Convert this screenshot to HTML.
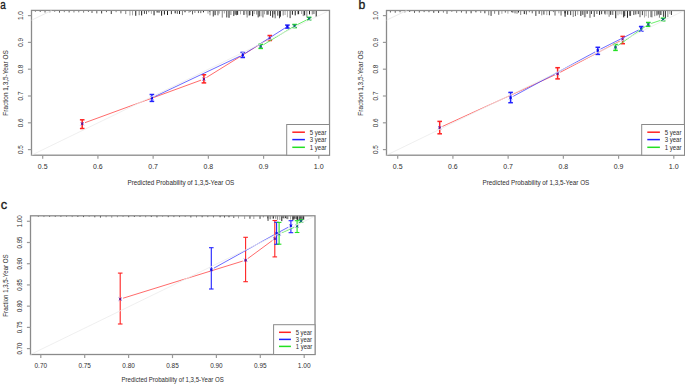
<!DOCTYPE html>
<html><head><meta charset="utf-8"><style>
html,body{margin:0;padding:0;background:#fff;width:685px;height:384px;overflow:hidden}
svg{display:block}
text{font-family:"Liberation Sans", sans-serif}
</style></head><body>
<svg width="685" height="384" viewBox="0 0 685 384">
<rect width="685" height="384" fill="#fff"/>
<line x1="35.40" y1="10.40" x2="35.40" y2="11.85" stroke="#000" stroke-width="0.9" stroke-opacity="0.55" />
<line x1="40.22" y1="10.40" x2="40.22" y2="11.98" stroke="#000" stroke-width="0.9" stroke-opacity="0.7" />
<line x1="45.04" y1="10.40" x2="45.04" y2="12.54" stroke="#000" stroke-width="0.9" stroke-opacity="0.7" />
<line x1="49.86" y1="10.40" x2="49.86" y2="12.42" stroke="#000" stroke-width="0.9" stroke-opacity="0.55" />
<line x1="54.68" y1="10.40" x2="54.68" y2="11.80" stroke="#000" stroke-width="0.9" stroke-opacity="0.55" />
<line x1="59.50" y1="10.40" x2="59.50" y2="12.68" stroke="#000" stroke-width="0.9" stroke-opacity="0.7" />
<line x1="64.32" y1="10.40" x2="64.32" y2="12.18" stroke="#000" stroke-width="0.9" stroke-opacity="0.55" />
<line x1="69.14" y1="10.40" x2="69.14" y2="12.47" stroke="#000" stroke-width="0.9" stroke-opacity="0.7" />
<line x1="73.96" y1="10.40" x2="73.96" y2="12.49" stroke="#000" stroke-width="0.9" stroke-opacity="0.55" />
<line x1="78.78" y1="10.40" x2="78.78" y2="12.35" stroke="#000" stroke-width="0.9" stroke-opacity="0.55" />
<line x1="83.60" y1="10.40" x2="83.60" y2="12.69" stroke="#000" stroke-width="0.9" stroke-opacity="0.55" />
<line x1="88.42" y1="10.40" x2="88.42" y2="11.72" stroke="#000" stroke-width="0.9" stroke-opacity="0.85" />
<line x1="92.00" y1="10.40" x2="92.00" y2="13.01" stroke="#000" stroke-width="0.9" stroke-opacity="0.7" />
<line x1="96.82" y1="10.40" x2="96.82" y2="13.38" stroke="#000" stroke-width="0.9" stroke-opacity="0.7" />
<line x1="101.64" y1="10.40" x2="101.64" y2="13.49" stroke="#000" stroke-width="0.9" stroke-opacity="0.85" />
<line x1="106.46" y1="10.40" x2="106.46" y2="12.18" stroke="#000" stroke-width="0.9" stroke-opacity="0.7" />
<line x1="111.28" y1="10.40" x2="111.28" y2="14.04" stroke="#000" stroke-width="0.9" stroke-opacity="0.85" />
<line x1="116.10" y1="10.40" x2="116.10" y2="12.21" stroke="#000" stroke-width="0.9" stroke-opacity="0.55" />
<line x1="120.92" y1="10.40" x2="120.92" y2="13.36" stroke="#000" stroke-width="0.9" stroke-opacity="0.7" />
<line x1="125.74" y1="10.40" x2="125.74" y2="14.08" stroke="#000" stroke-width="0.9" stroke-opacity="0.55" />
<line x1="129.93" y1="10.40" x2="129.93" y2="15.57" stroke="#000" stroke-width="0.9" stroke-opacity="0.4" />
<line x1="132.49" y1="10.40" x2="132.49" y2="15.34" stroke="#000" stroke-width="0.9" stroke-opacity="0.4" />
<line x1="135.76" y1="10.40" x2="135.76" y2="15.79" stroke="#000" stroke-width="0.9" />
<line x1="139.16" y1="10.40" x2="139.16" y2="15.22" stroke="#000" stroke-width="0.9" stroke-opacity="0.55" />
<line x1="141.65" y1="10.40" x2="141.65" y2="15.43" stroke="#000" stroke-width="0.9" />
<line x1="144.42" y1="10.40" x2="144.42" y2="13.82" stroke="#000" stroke-width="0.9" stroke-opacity="0.85" />
<line x1="146.49" y1="10.40" x2="146.49" y2="14.10" stroke="#000" stroke-width="0.9" stroke-opacity="0.7" />
<line x1="148.75" y1="10.40" x2="148.75" y2="12.33" stroke="#000" stroke-width="0.9" stroke-opacity="0.55" />
<line x1="151.38" y1="10.40" x2="151.38" y2="13.86" stroke="#000" stroke-width="0.9" stroke-opacity="0.4" />
<line x1="154.05" y1="10.40" x2="154.05" y2="15.29" stroke="#000" stroke-width="0.9" />
<line x1="157.12" y1="10.40" x2="157.12" y2="12.58" stroke="#000" stroke-width="0.9" />
<line x1="159.01" y1="10.40" x2="159.01" y2="12.70" stroke="#000" stroke-width="0.9" />
<line x1="161.61" y1="10.40" x2="161.61" y2="15.71" stroke="#000" stroke-width="0.9" />
<line x1="164.40" y1="10.40" x2="164.40" y2="14.54" stroke="#000" stroke-width="0.9" />
<line x1="167.50" y1="10.40" x2="167.50" y2="15.03" stroke="#000" stroke-width="0.9" />
<line x1="171.40" y1="10.40" x2="171.40" y2="14.15" stroke="#000" stroke-width="0.9" stroke-opacity="0.85" />
<line x1="175.18" y1="10.40" x2="175.18" y2="13.36" stroke="#000" stroke-width="0.9" />
<line x1="177.32" y1="10.40" x2="177.32" y2="13.84" stroke="#000" stroke-width="0.9" stroke-opacity="0.7" />
<line x1="179.53" y1="10.40" x2="179.53" y2="14.06" stroke="#000" stroke-width="0.9" />
<line x1="182.43" y1="10.40" x2="182.43" y2="15.12" stroke="#000" stroke-width="0.9" stroke-opacity="0.55" />
<line x1="185.01" y1="10.40" x2="185.01" y2="12.27" stroke="#000" stroke-width="0.9" />
<line x1="188.98" y1="10.40" x2="188.98" y2="12.92" stroke="#000" stroke-width="0.9" stroke-opacity="0.4" />
<line x1="190.21" y1="10.40" x2="190.21" y2="11.96" stroke="#000" stroke-width="0.9" stroke-opacity="0.7" />
<line x1="192.52" y1="10.40" x2="192.52" y2="14.40" stroke="#000" stroke-width="0.9" stroke-opacity="0.7" />
<line x1="194.90" y1="10.40" x2="194.90" y2="12.92" stroke="#000" stroke-width="0.9" stroke-opacity="0.55" />
<line x1="198.43" y1="10.40" x2="198.43" y2="13.08" stroke="#000" stroke-width="0.9" stroke-opacity="0.7" />
<line x1="200.80" y1="10.40" x2="200.80" y2="13.15" stroke="#000" stroke-width="0.9" stroke-opacity="0.7" />
<line x1="203.48" y1="10.40" x2="203.48" y2="12.34" stroke="#000" stroke-width="0.9" />
<line x1="207.97" y1="10.40" x2="207.97" y2="13.63" stroke="#000" stroke-width="0.9" stroke-opacity="0.4" />
<line x1="209.70" y1="10.40" x2="209.70" y2="12.04" stroke="#000" stroke-width="0.9" stroke-opacity="0.55" />
<line x1="210.01" y1="10.40" x2="210.01" y2="15.32" stroke="#000" stroke-width="0.9" stroke-opacity="0.55" />
<line x1="213.28" y1="10.40" x2="213.28" y2="16.53" stroke="#000" stroke-width="0.9" stroke-opacity="0.85" />
<line x1="215.09" y1="10.40" x2="215.09" y2="15.18" stroke="#000" stroke-width="0.9" />
<line x1="217.95" y1="10.40" x2="217.95" y2="15.32" stroke="#000" stroke-width="0.9" stroke-opacity="0.7" />
<line x1="219.21" y1="10.40" x2="219.21" y2="13.61" stroke="#000" stroke-width="0.9" stroke-opacity="0.4" />
<line x1="222.25" y1="10.40" x2="222.25" y2="17.63" stroke="#000" stroke-width="0.9" stroke-opacity="0.55" />
<line x1="224.35" y1="10.40" x2="224.35" y2="13.44" stroke="#000" stroke-width="0.9" stroke-opacity="0.4" />
<line x1="226.78" y1="10.40" x2="226.78" y2="17.45" stroke="#000" stroke-width="0.9" stroke-opacity="0.85" />
<line x1="229.00" y1="10.40" x2="229.00" y2="17.78" stroke="#000" stroke-width="0.9" />
<line x1="230.92" y1="10.40" x2="230.92" y2="14.96" stroke="#000" stroke-width="0.9" stroke-opacity="0.55" />
<line x1="233.77" y1="10.40" x2="233.77" y2="16.06" stroke="#000" stroke-width="0.9" stroke-opacity="0.85" />
<line x1="235.16" y1="10.40" x2="235.16" y2="14.73" stroke="#000" stroke-width="0.9" stroke-opacity="0.85" />
<line x1="236.53" y1="10.40" x2="236.53" y2="15.21" stroke="#000" stroke-width="0.9" stroke-opacity="0.7" />
<line x1="237.61" y1="10.40" x2="237.61" y2="14.87" stroke="#000" stroke-width="0.9" />
<line x1="240.55" y1="10.40" x2="240.55" y2="14.36" stroke="#000" stroke-width="0.9" stroke-opacity="0.4" />
<line x1="243.94" y1="10.40" x2="243.94" y2="14.95" stroke="#000" stroke-width="0.9" />
<line x1="246.26" y1="10.40" x2="246.26" y2="14.46" stroke="#000" stroke-width="0.9" stroke-opacity="0.4" />
<line x1="247.14" y1="10.40" x2="247.14" y2="17.50" stroke="#000" stroke-width="0.9" stroke-opacity="0.55" />
<line x1="249.14" y1="10.40" x2="249.14" y2="15.68" stroke="#000" stroke-width="0.9" stroke-opacity="0.7" />
<line x1="249.87" y1="10.40" x2="249.87" y2="15.21" stroke="#000" stroke-width="0.9" />
<line x1="252.62" y1="10.40" x2="252.62" y2="16.10" stroke="#000" stroke-width="0.9" />
<line x1="254.21" y1="10.40" x2="254.21" y2="14.08" stroke="#000" stroke-width="0.9" stroke-opacity="0.4" />
<line x1="256.73" y1="10.40" x2="256.73" y2="14.56" stroke="#000" stroke-width="0.9" stroke-opacity="0.55" />
<line x1="258.18" y1="10.40" x2="258.18" y2="17.42" stroke="#000" stroke-width="0.9" stroke-opacity="0.85" />
<line x1="259.45" y1="10.40" x2="259.45" y2="16.45" stroke="#000" stroke-width="0.9" stroke-opacity="0.7" />
<line x1="261.03" y1="10.40" x2="261.03" y2="16.30" stroke="#000" stroke-width="0.9" stroke-opacity="0.4" />
<line x1="262.94" y1="10.40" x2="262.94" y2="17.44" stroke="#000" stroke-width="0.9" stroke-opacity="0.7" />
<line x1="264.48" y1="10.40" x2="264.48" y2="14.31" stroke="#000" stroke-width="0.9" stroke-opacity="0.4" />
<line x1="267.10" y1="10.40" x2="267.10" y2="14.75" stroke="#000" stroke-width="0.9" />
<line x1="268.43" y1="10.40" x2="268.43" y2="14.65" stroke="#000" stroke-width="0.9" stroke-opacity="0.55" />
<line x1="270.47" y1="10.40" x2="270.47" y2="15.86" stroke="#000" stroke-width="0.9" stroke-opacity="0.85" />
<line x1="272.72" y1="10.40" x2="272.72" y2="17.58" stroke="#000" stroke-width="0.9" />
<line x1="274.27" y1="10.40" x2="274.27" y2="14.35" stroke="#000" stroke-width="0.9" stroke-opacity="0.7" />
<line x1="275.16" y1="10.40" x2="275.16" y2="18.32" stroke="#000" stroke-width="0.9" stroke-opacity="0.7" />
<line x1="277.77" y1="10.40" x2="277.77" y2="15.66" stroke="#000" stroke-width="0.9" stroke-opacity="0.85" />
<line x1="279.54" y1="10.40" x2="279.54" y2="18.26" stroke="#000" stroke-width="0.9" stroke-opacity="0.85" />
<line x1="280.36" y1="10.40" x2="280.36" y2="16.68" stroke="#000" stroke-width="0.9" />
<line x1="283.16" y1="10.40" x2="283.16" y2="15.50" stroke="#000" stroke-width="0.9" stroke-opacity="0.55" />
<line x1="285.09" y1="10.40" x2="285.09" y2="15.01" stroke="#000" stroke-width="0.9" stroke-opacity="0.4" />
<line x1="287.43" y1="10.40" x2="287.43" y2="17.29" stroke="#000" stroke-width="0.9" stroke-opacity="0.4" />
<line x1="290.12" y1="10.40" x2="290.12" y2="18.13" stroke="#000" stroke-width="0.9" stroke-opacity="0.85" />
<line x1="292.38" y1="10.40" x2="292.38" y2="14.74" stroke="#000" stroke-width="0.9" />
<line x1="295.22" y1="10.40" x2="295.22" y2="15.40" stroke="#000" stroke-width="0.9" />
<line x1="297.80" y1="10.40" x2="297.80" y2="14.31" stroke="#000" stroke-width="0.9" stroke-opacity="0.55" />
<line x1="298.58" y1="10.40" x2="298.58" y2="14.23" stroke="#000" stroke-width="0.9" />
<line x1="301.56" y1="10.40" x2="301.56" y2="14.00" stroke="#000" stroke-width="0.9" stroke-opacity="0.4" />
<line x1="303.28" y1="10.40" x2="303.28" y2="16.12" stroke="#000" stroke-width="0.9" stroke-opacity="0.55" />
<line x1="304.63" y1="10.40" x2="304.63" y2="15.38" stroke="#000" stroke-width="0.9" />
<line x1="306.86" y1="10.40" x2="306.86" y2="17.39" stroke="#000" stroke-width="0.9" stroke-opacity="0.55" />
<line x1="309.49" y1="10.40" x2="309.49" y2="14.38" stroke="#000" stroke-width="0.9" />
<line x1="312.25" y1="10.40" x2="312.25" y2="14.47" stroke="#000" stroke-width="0.9" stroke-opacity="0.55" />
<line x1="313.93" y1="10.40" x2="313.93" y2="14.04" stroke="#000" stroke-width="0.9" stroke-opacity="0.7" />
<line x1="316.21" y1="10.40" x2="316.21" y2="16.92" stroke="#000" stroke-width="0.9" />
<rect x="31.5" y="10.4" width="298.00" height="144.80" fill="none" stroke="#8a8a8a" stroke-width="1.3"/>
<line x1="42.70" y1="155.20" x2="42.70" y2="158.80" stroke="#9a9a9a" stroke-width="1.2" />
<text x="42.70" y="168.60" font-size="6.85" text-anchor="middle" font-weight="normal" fill="#2e2e2e" textLength="9.66" lengthAdjust="spacingAndGlyphs">0.5</text>
<line x1="97.92" y1="155.20" x2="97.92" y2="158.80" stroke="#9a9a9a" stroke-width="1.2" />
<text x="97.92" y="168.60" font-size="6.85" text-anchor="middle" font-weight="normal" fill="#2e2e2e" textLength="9.66" lengthAdjust="spacingAndGlyphs">0.6</text>
<line x1="153.14" y1="155.20" x2="153.14" y2="158.80" stroke="#9a9a9a" stroke-width="1.2" />
<text x="153.14" y="168.60" font-size="6.85" text-anchor="middle" font-weight="normal" fill="#2e2e2e" textLength="9.73" lengthAdjust="spacingAndGlyphs">0.7</text>
<line x1="208.36" y1="155.20" x2="208.36" y2="158.80" stroke="#9a9a9a" stroke-width="1.2" />
<text x="208.36" y="168.60" font-size="6.85" text-anchor="middle" font-weight="normal" fill="#2e2e2e" textLength="9.66" lengthAdjust="spacingAndGlyphs">0.8</text>
<line x1="263.58" y1="155.20" x2="263.58" y2="158.80" stroke="#9a9a9a" stroke-width="1.2" />
<text x="263.58" y="168.60" font-size="6.85" text-anchor="middle" font-weight="normal" fill="#2e2e2e" textLength="9.69" lengthAdjust="spacingAndGlyphs">0.9</text>
<line x1="318.80" y1="155.20" x2="318.80" y2="158.80" stroke="#9a9a9a" stroke-width="1.2" />
<text x="318.80" y="168.60" font-size="6.85" text-anchor="middle" font-weight="normal" fill="#2e2e2e" textLength="9.88" lengthAdjust="spacingAndGlyphs">1.0</text>
<line x1="27.90" y1="149.60" x2="31.50" y2="149.60" stroke="#9a9a9a" stroke-width="1.2" />
<text x="22.80" y="149.60" font-size="6.9" text-anchor="middle" font-weight="normal" fill="#2e2e2e" transform="rotate(-90 22.80 149.60)" textLength="8.81" lengthAdjust="spacingAndGlyphs">0.5</text>
<line x1="27.90" y1="122.80" x2="31.50" y2="122.80" stroke="#9a9a9a" stroke-width="1.2" />
<text x="22.80" y="122.80" font-size="6.9" text-anchor="middle" font-weight="normal" fill="#2e2e2e" transform="rotate(-90 22.80 122.80)" textLength="8.81" lengthAdjust="spacingAndGlyphs">0.6</text>
<line x1="27.90" y1="96.00" x2="31.50" y2="96.00" stroke="#9a9a9a" stroke-width="1.2" />
<text x="22.80" y="96.00" font-size="6.9" text-anchor="middle" font-weight="normal" fill="#2e2e2e" transform="rotate(-90 22.80 96.00)" textLength="8.88" lengthAdjust="spacingAndGlyphs">0.7</text>
<line x1="27.90" y1="69.20" x2="31.50" y2="69.20" stroke="#9a9a9a" stroke-width="1.2" />
<text x="22.80" y="69.20" font-size="6.9" text-anchor="middle" font-weight="normal" fill="#2e2e2e" transform="rotate(-90 22.80 69.20)" textLength="8.81" lengthAdjust="spacingAndGlyphs">0.8</text>
<line x1="27.90" y1="42.40" x2="31.50" y2="42.40" stroke="#9a9a9a" stroke-width="1.2" />
<text x="22.80" y="42.40" font-size="6.9" text-anchor="middle" font-weight="normal" fill="#2e2e2e" transform="rotate(-90 22.80 42.40)" textLength="8.84" lengthAdjust="spacingAndGlyphs">0.9</text>
<line x1="27.90" y1="15.60" x2="31.50" y2="15.60" stroke="#9a9a9a" stroke-width="1.2" />
<text x="22.80" y="15.60" font-size="6.9" text-anchor="middle" font-weight="normal" fill="#2e2e2e" transform="rotate(-90 22.80 15.60)" textLength="9.01" lengthAdjust="spacingAndGlyphs">1.0</text>
<text x="180.90" y="184.55" font-size="7.3" text-anchor="middle" font-weight="normal" fill="#2e2e2e" textLength="106.80" lengthAdjust="spacingAndGlyphs">Predicted Probability of 1,3,5-Year OS</text>
<text x="7.80" y="83.00" font-size="7.4" text-anchor="middle" font-weight="normal" fill="#2e2e2e" transform="rotate(-90 7.80 83.00)" textLength="65.31" lengthAdjust="spacingAndGlyphs">Fraction 1,3,5-Year OS</text>
<rect x="286.7" y="124.5" width="42.80" height="30.70" fill="#fff" stroke="#8a8a8a" stroke-width="1"/>
<line x1="292.30" y1="132.20" x2="304.90" y2="132.20" stroke="#ff2222" stroke-width="1.5" />
<text x="309.65" y="134.80" font-size="6.3" text-anchor="start" font-weight="normal" fill="#2e2e2e" textLength="16.76" lengthAdjust="spacingAndGlyphs">5 year</text>
<line x1="292.30" y1="139.60" x2="304.90" y2="139.60" stroke="#2222ff" stroke-width="1.5" />
<text x="309.65" y="142.20" font-size="6.3" text-anchor="start" font-weight="normal" fill="#2e2e2e" textLength="16.76" lengthAdjust="spacingAndGlyphs">3 year</text>
<line x1="292.30" y1="147.30" x2="304.90" y2="147.30" stroke="#22e022" stroke-width="1.5" />
<text x="309.65" y="150.00" font-size="6.3" text-anchor="start" font-weight="normal" fill="#2e2e2e" textLength="16.98" lengthAdjust="spacingAndGlyphs">1 year</text>
<line x1="82.20" y1="119.80" x2="82.20" y2="128.50" stroke="#ff2222" stroke-width="1.5" />
<line x1="79.90" y1="119.80" x2="84.50" y2="119.80" stroke="#ff2222" stroke-width="1.5" />
<line x1="79.90" y1="128.50" x2="84.50" y2="128.50" stroke="#ff2222" stroke-width="1.5" />
<line x1="203.90" y1="74.75" x2="203.90" y2="82.90" stroke="#ff2222" stroke-width="1.5" />
<line x1="201.60" y1="74.75" x2="206.20" y2="74.75" stroke="#ff2222" stroke-width="1.5" />
<line x1="201.60" y1="82.90" x2="206.20" y2="82.90" stroke="#ff2222" stroke-width="1.5" />
<line x1="269.80" y1="35.50" x2="269.80" y2="40.50" stroke="#ff2222" stroke-width="1.5" />
<line x1="267.50" y1="35.50" x2="272.10" y2="35.50" stroke="#ff2222" stroke-width="1.5" />
<line x1="267.50" y1="40.50" x2="272.10" y2="40.50" stroke="#ff2222" stroke-width="1.5" />
<line x1="85.02" y1="122.67" x2="201.08" y2="80.13" stroke="#ff5050" stroke-width="0.85" />
<line x1="206.45" y1="77.52" x2="267.25" y2="39.78" stroke="#ff5050" stroke-width="0.85" />
<path d="M80.60 122.10L83.80 125.30M80.60 125.30L83.80 122.10" stroke="#3030e0" stroke-width="0.9" stroke-opacity="0.65"/>
<circle cx="82.20" cy="123.70" r="1.2" fill="#700a80" fill-opacity="0.85"/>
<path d="M202.30 77.50L205.50 80.70M202.30 80.70L205.50 77.50" stroke="#3030e0" stroke-width="0.9" stroke-opacity="0.65"/>
<circle cx="203.90" cy="79.10" r="1.2" fill="#700a80" fill-opacity="0.85"/>
<path d="M268.20 36.60L271.40 39.80M268.20 39.80L271.40 36.60" stroke="#3030e0" stroke-width="0.9" stroke-opacity="0.65"/>
<circle cx="269.80" cy="38.20" r="1.2" fill="#700a80" fill-opacity="0.85"/>
<line x1="151.90" y1="94.50" x2="151.90" y2="101.40" stroke="#2222ff" stroke-width="1.5" />
<line x1="149.60" y1="94.50" x2="154.20" y2="94.50" stroke="#2222ff" stroke-width="1.5" />
<line x1="149.60" y1="101.40" x2="154.20" y2="101.40" stroke="#2222ff" stroke-width="1.5" />
<line x1="242.75" y1="52.40" x2="242.75" y2="57.50" stroke="#2222ff" stroke-width="1.5" />
<line x1="240.45" y1="52.40" x2="245.05" y2="52.40" stroke="#2222ff" stroke-width="1.5" />
<line x1="240.45" y1="57.50" x2="245.05" y2="57.50" stroke="#2222ff" stroke-width="1.5" />
<line x1="287.40" y1="25.10" x2="287.40" y2="28.10" stroke="#2222ff" stroke-width="1.5" />
<line x1="285.10" y1="25.10" x2="289.70" y2="25.10" stroke="#2222ff" stroke-width="1.5" />
<line x1="285.10" y1="28.10" x2="289.70" y2="28.10" stroke="#2222ff" stroke-width="1.5" />
<line x1="154.61" y1="96.62" x2="240.04" y2="56.18" stroke="#5050ff" stroke-width="0.85" />
<line x1="245.28" y1="53.29" x2="284.87" y2="28.11" stroke="#5050ff" stroke-width="0.85" />
<path d="M150.30 96.30L153.50 99.50M150.30 99.50L153.50 96.30" stroke="#3030e0" stroke-width="0.9" stroke-opacity="0.65"/>
<circle cx="151.90" cy="97.90" r="1.2" fill="#0000e8" fill-opacity="0.85"/>
<path d="M241.15 53.30L244.35 56.50M241.15 56.50L244.35 53.30" stroke="#3030e0" stroke-width="0.9" stroke-opacity="0.65"/>
<circle cx="242.75" cy="54.90" r="1.2" fill="#0000e8" fill-opacity="0.85"/>
<path d="M285.80 24.90L289.00 28.10M285.80 28.10L289.00 24.90" stroke="#3030e0" stroke-width="0.9" stroke-opacity="0.65"/>
<circle cx="287.40" cy="26.50" r="1.2" fill="#0000e8" fill-opacity="0.85"/>
<line x1="260.70" y1="44.30" x2="260.70" y2="48.40" stroke="#22e022" stroke-width="1.5" />
<line x1="258.40" y1="44.30" x2="263.00" y2="44.30" stroke="#22e022" stroke-width="1.5" />
<line x1="258.40" y1="48.40" x2="263.00" y2="48.40" stroke="#22e022" stroke-width="1.5" />
<line x1="294.60" y1="24.50" x2="294.60" y2="27.60" stroke="#22e022" stroke-width="1.5" />
<line x1="292.30" y1="24.50" x2="296.90" y2="24.50" stroke="#22e022" stroke-width="1.5" />
<line x1="292.30" y1="27.60" x2="296.90" y2="27.60" stroke="#22e022" stroke-width="1.5" />
<line x1="309.20" y1="17.40" x2="309.20" y2="19.80" stroke="#22e022" stroke-width="1.5" />
<line x1="306.90" y1="17.40" x2="311.50" y2="17.40" stroke="#22e022" stroke-width="1.5" />
<line x1="306.90" y1="19.80" x2="311.50" y2="19.80" stroke="#22e022" stroke-width="1.5" />
<line x1="263.27" y1="44.85" x2="292.03" y2="27.55" stroke="#50e850" stroke-width="0.85" />
<line x1="297.28" y1="24.64" x2="306.52" y2="19.96" stroke="#50e850" stroke-width="0.85" />
<path d="M259.10 44.80L262.30 48.00M259.10 48.00L262.30 44.80" stroke="#3030e0" stroke-width="0.9" stroke-opacity="0.65"/>
<circle cx="260.70" cy="46.40" r="1.2" fill="#106a70" fill-opacity="0.85"/>
<path d="M293.00 24.40L296.20 27.60M293.00 27.60L296.20 24.40" stroke="#3030e0" stroke-width="0.9" stroke-opacity="0.65"/>
<circle cx="294.60" cy="26.00" r="1.2" fill="#106a70" fill-opacity="0.85"/>
<path d="M307.60 17.00L310.80 20.20M307.60 20.20L310.80 17.00" stroke="#3030e0" stroke-width="0.9" stroke-opacity="0.65"/>
<circle cx="309.20" cy="18.60" r="1.2" fill="#106a70" fill-opacity="0.85"/>
<line x1="31.50" y1="155.20" x2="327.50" y2="11.40" stroke="#ebebeb" stroke-width="0.8" />
<line x1="31.50" y1="20.20" x2="51.50" y2="10.60" stroke="#e4e4e4" stroke-width="0.8" />
<text x="0.35" y="8.75" font-size="12.0" text-anchor="start" font-weight="normal" fill="#1a1a1a" textLength="5.51" lengthAdjust="spacingAndGlyphs" stroke="#1a1a1a" stroke-width="0.35">a</text>
<line x1="390.40" y1="10.50" x2="390.40" y2="12.51" stroke="#000" stroke-width="0.9" stroke-opacity="0.7" />
<line x1="395.22" y1="10.50" x2="395.22" y2="12.75" stroke="#000" stroke-width="0.9" stroke-opacity="0.7" />
<line x1="400.04" y1="10.50" x2="400.04" y2="12.28" stroke="#000" stroke-width="0.9" stroke-opacity="0.7" />
<line x1="404.86" y1="10.50" x2="404.86" y2="12.38" stroke="#000" stroke-width="0.9" stroke-opacity="0.7" />
<line x1="409.68" y1="10.50" x2="409.68" y2="12.01" stroke="#000" stroke-width="0.9" stroke-opacity="0.7" />
<line x1="414.50" y1="10.50" x2="414.50" y2="12.86" stroke="#000" stroke-width="0.9" stroke-opacity="0.7" />
<line x1="419.32" y1="10.50" x2="419.32" y2="12.55" stroke="#000" stroke-width="0.9" stroke-opacity="0.7" />
<line x1="424.14" y1="10.50" x2="424.14" y2="12.14" stroke="#000" stroke-width="0.9" stroke-opacity="0.7" />
<line x1="428.96" y1="10.50" x2="428.96" y2="12.24" stroke="#000" stroke-width="0.9" stroke-opacity="0.7" />
<line x1="433.78" y1="10.50" x2="433.78" y2="12.80" stroke="#000" stroke-width="0.9" stroke-opacity="0.85" />
<line x1="438.60" y1="10.50" x2="438.60" y2="12.90" stroke="#000" stroke-width="0.9" stroke-opacity="0.85" />
<line x1="443.42" y1="10.50" x2="443.42" y2="12.65" stroke="#000" stroke-width="0.9" stroke-opacity="0.55" />
<line x1="447.00" y1="10.50" x2="447.00" y2="13.84" stroke="#000" stroke-width="0.9" stroke-opacity="0.7" />
<line x1="451.82" y1="10.50" x2="451.82" y2="11.89" stroke="#000" stroke-width="0.9" stroke-opacity="0.55" />
<line x1="456.64" y1="10.50" x2="456.64" y2="12.91" stroke="#000" stroke-width="0.9" stroke-opacity="0.55" />
<line x1="461.46" y1="10.50" x2="461.46" y2="12.56" stroke="#000" stroke-width="0.9" stroke-opacity="0.7" />
<line x1="466.28" y1="10.50" x2="466.28" y2="13.51" stroke="#000" stroke-width="0.9" stroke-opacity="0.7" />
<line x1="471.10" y1="10.50" x2="471.10" y2="13.29" stroke="#000" stroke-width="0.9" stroke-opacity="0.85" />
<line x1="475.92" y1="10.50" x2="475.92" y2="12.33" stroke="#000" stroke-width="0.9" stroke-opacity="0.85" />
<line x1="480.74" y1="10.50" x2="480.74" y2="12.99" stroke="#000" stroke-width="0.9" stroke-opacity="0.55" />
<line x1="484.86" y1="10.50" x2="484.86" y2="13.29" stroke="#000" stroke-width="0.9" stroke-opacity="0.85" />
<line x1="488.73" y1="10.50" x2="488.73" y2="15.28" stroke="#000" stroke-width="0.9" stroke-opacity="0.55" />
<line x1="491.07" y1="10.50" x2="491.07" y2="15.92" stroke="#000" stroke-width="0.9" stroke-opacity="0.85" />
<line x1="494.62" y1="10.50" x2="494.62" y2="13.74" stroke="#000" stroke-width="0.9" stroke-opacity="0.55" />
<line x1="498.75" y1="10.50" x2="498.75" y2="14.81" stroke="#000" stroke-width="0.9" stroke-opacity="0.7" />
<line x1="501.90" y1="10.50" x2="501.90" y2="13.79" stroke="#000" stroke-width="0.9" stroke-opacity="0.4" />
<line x1="505.30" y1="10.50" x2="505.30" y2="12.60" stroke="#000" stroke-width="0.9" stroke-opacity="0.7" />
<line x1="507.91" y1="10.50" x2="507.91" y2="13.66" stroke="#000" stroke-width="0.9" stroke-opacity="0.4" />
<line x1="511.52" y1="10.50" x2="511.52" y2="12.20" stroke="#000" stroke-width="0.9" stroke-opacity="0.7" />
<line x1="512.84" y1="10.50" x2="512.84" y2="12.59" stroke="#000" stroke-width="0.9" stroke-opacity="0.85" />
<line x1="515.03" y1="10.50" x2="515.03" y2="13.37" stroke="#000" stroke-width="0.9" stroke-opacity="0.7" />
<line x1="517.02" y1="10.50" x2="517.02" y2="13.82" stroke="#000" stroke-width="0.9" stroke-opacity="0.55" />
<line x1="518.51" y1="10.50" x2="518.51" y2="12.52" stroke="#000" stroke-width="0.9" />
<line x1="520.69" y1="10.50" x2="520.69" y2="14.96" stroke="#000" stroke-width="0.9" stroke-opacity="0.55" />
<line x1="524.31" y1="10.50" x2="524.31" y2="14.09" stroke="#000" stroke-width="0.9" />
<line x1="526.40" y1="10.50" x2="526.40" y2="14.50" stroke="#000" stroke-width="0.9" stroke-opacity="0.7" />
<line x1="529.34" y1="10.50" x2="529.34" y2="12.31" stroke="#000" stroke-width="0.9" stroke-opacity="0.55" />
<line x1="532.24" y1="10.50" x2="532.24" y2="13.32" stroke="#000" stroke-width="0.9" stroke-opacity="0.7" />
<line x1="535.87" y1="10.50" x2="535.87" y2="15.92" stroke="#000" stroke-width="0.9" stroke-opacity="0.85" />
<line x1="539.17" y1="10.50" x2="539.17" y2="13.86" stroke="#000" stroke-width="0.9" stroke-opacity="0.85" />
<line x1="541.75" y1="10.50" x2="541.75" y2="15.34" stroke="#000" stroke-width="0.9" stroke-opacity="0.55" />
<line x1="543.90" y1="10.50" x2="543.90" y2="14.61" stroke="#000" stroke-width="0.9" stroke-opacity="0.85" />
<line x1="546.79" y1="10.50" x2="546.79" y2="15.10" stroke="#000" stroke-width="0.9" stroke-opacity="0.4" />
<line x1="549.43" y1="10.50" x2="549.43" y2="15.26" stroke="#000" stroke-width="0.9" stroke-opacity="0.85" />
<line x1="553.43" y1="10.50" x2="553.43" y2="12.09" stroke="#000" stroke-width="0.9" stroke-opacity="0.55" />
<line x1="555.02" y1="10.50" x2="555.02" y2="15.57" stroke="#000" stroke-width="0.9" stroke-opacity="0.7" />
<line x1="558.83" y1="10.50" x2="558.83" y2="13.34" stroke="#000" stroke-width="0.9" stroke-opacity="0.4" />
<line x1="561.05" y1="10.50" x2="561.05" y2="15.54" stroke="#000" stroke-width="0.9" stroke-opacity="0.7" />
<line x1="565.06" y1="10.50" x2="565.06" y2="13.37" stroke="#000" stroke-width="0.9" />
<line x1="565.08" y1="10.50" x2="565.08" y2="16.71" stroke="#000" stroke-width="0.9" />
<line x1="567.70" y1="10.50" x2="567.70" y2="14.78" stroke="#000" stroke-width="0.9" />
<line x1="570.67" y1="10.50" x2="570.67" y2="15.11" stroke="#000" stroke-width="0.9" stroke-opacity="0.85" />
<line x1="573.23" y1="10.50" x2="573.23" y2="17.00" stroke="#000" stroke-width="0.9" stroke-opacity="0.55" />
<line x1="575.43" y1="10.50" x2="575.43" y2="16.11" stroke="#000" stroke-width="0.9" stroke-opacity="0.7" />
<line x1="577.73" y1="10.50" x2="577.73" y2="14.83" stroke="#000" stroke-width="0.9" stroke-opacity="0.4" />
<line x1="580.85" y1="10.50" x2="580.85" y2="15.92" stroke="#000" stroke-width="0.9" />
<line x1="582.82" y1="10.50" x2="582.82" y2="14.84" stroke="#000" stroke-width="0.9" stroke-opacity="0.85" />
<line x1="584.40" y1="10.50" x2="584.40" y2="17.31" stroke="#000" stroke-width="0.9" stroke-opacity="0.55" />
<line x1="585.57" y1="10.50" x2="585.57" y2="17.20" stroke="#000" stroke-width="0.9" stroke-opacity="0.4" />
<line x1="587.15" y1="10.50" x2="587.15" y2="13.82" stroke="#000" stroke-width="0.9" />
<line x1="589.98" y1="10.50" x2="589.98" y2="17.84" stroke="#000" stroke-width="0.9" stroke-opacity="0.7" />
<line x1="591.47" y1="10.50" x2="591.47" y2="13.97" stroke="#000" stroke-width="0.9" stroke-opacity="0.85" />
<line x1="594.23" y1="10.50" x2="594.23" y2="16.88" stroke="#000" stroke-width="0.9" stroke-opacity="0.85" />
<line x1="596.90" y1="10.50" x2="596.90" y2="14.01" stroke="#000" stroke-width="0.9" stroke-opacity="0.7" />
<line x1="599.55" y1="10.50" x2="599.55" y2="14.87" stroke="#000" stroke-width="0.9" />
<line x1="601.63" y1="10.50" x2="601.63" y2="14.23" stroke="#000" stroke-width="0.9" stroke-opacity="0.85" />
<line x1="604.85" y1="10.50" x2="604.85" y2="13.73" stroke="#000" stroke-width="0.9" stroke-opacity="0.85" />
<line x1="605.13" y1="10.50" x2="605.13" y2="14.96" stroke="#000" stroke-width="0.9" stroke-opacity="0.4" />
<line x1="607.13" y1="10.50" x2="607.13" y2="14.47" stroke="#000" stroke-width="0.9" stroke-opacity="0.4" />
<line x1="609.12" y1="10.50" x2="609.12" y2="16.77" stroke="#000" stroke-width="0.9" stroke-opacity="0.55" />
<line x1="610.71" y1="10.50" x2="610.71" y2="14.85" stroke="#000" stroke-width="0.9" />
<line x1="612.77" y1="10.50" x2="612.77" y2="14.92" stroke="#000" stroke-width="0.9" stroke-opacity="0.7" />
<line x1="615.74" y1="10.50" x2="615.74" y2="18.25" stroke="#000" stroke-width="0.9" />
<line x1="617.98" y1="10.50" x2="617.98" y2="15.29" stroke="#000" stroke-width="0.9" stroke-opacity="0.4" />
<line x1="619.89" y1="10.50" x2="619.89" y2="14.25" stroke="#000" stroke-width="0.9" stroke-opacity="0.4" />
<line x1="621.79" y1="10.50" x2="621.79" y2="14.55" stroke="#000" stroke-width="0.9" stroke-opacity="0.4" />
<line x1="623.73" y1="10.50" x2="623.73" y2="17.37" stroke="#000" stroke-width="0.9" />
<line x1="624.73" y1="10.50" x2="624.73" y2="16.06" stroke="#000" stroke-width="0.9" stroke-opacity="0.85" />
<line x1="627.48" y1="10.50" x2="627.48" y2="17.76" stroke="#000" stroke-width="0.9" />
<line x1="629.80" y1="10.50" x2="629.80" y2="15.79" stroke="#000" stroke-width="0.9" stroke-opacity="0.85" />
<line x1="630.59" y1="10.50" x2="630.59" y2="15.91" stroke="#000" stroke-width="0.9" stroke-opacity="0.7" />
<line x1="633.83" y1="10.50" x2="633.83" y2="15.04" stroke="#000" stroke-width="0.9" stroke-opacity="0.85" />
<line x1="635.83" y1="10.50" x2="635.83" y2="14.48" stroke="#000" stroke-width="0.9" stroke-opacity="0.85" />
<line x1="638.26" y1="10.50" x2="638.26" y2="14.09" stroke="#000" stroke-width="0.9" stroke-opacity="0.85" />
<line x1="640.01" y1="10.50" x2="640.01" y2="17.20" stroke="#000" stroke-width="0.9" stroke-opacity="0.7" />
<line x1="642.37" y1="10.50" x2="642.37" y2="15.15" stroke="#000" stroke-width="0.9" stroke-opacity="0.85" />
<line x1="644.44" y1="10.50" x2="644.44" y2="17.51" stroke="#000" stroke-width="0.9" stroke-opacity="0.4" />
<line x1="646.10" y1="10.50" x2="646.10" y2="16.23" stroke="#000" stroke-width="0.9" stroke-opacity="0.4" />
<line x1="648.44" y1="10.50" x2="648.44" y2="17.83" stroke="#000" stroke-width="0.9" stroke-opacity="0.4" />
<line x1="650.97" y1="10.50" x2="650.97" y2="17.17" stroke="#000" stroke-width="0.9" stroke-opacity="0.7" />
<line x1="652.00" y1="10.50" x2="652.00" y2="17.39" stroke="#000" stroke-width="0.9" stroke-opacity="0.55" />
<line x1="654.74" y1="10.50" x2="654.74" y2="16.21" stroke="#000" stroke-width="0.9" stroke-opacity="0.55" />
<line x1="656.93" y1="10.50" x2="656.93" y2="15.51" stroke="#000" stroke-width="0.9" stroke-opacity="0.85" />
<line x1="658.26" y1="10.50" x2="658.26" y2="14.55" stroke="#000" stroke-width="0.9" stroke-opacity="0.85" />
<line x1="659.41" y1="10.50" x2="659.41" y2="17.72" stroke="#000" stroke-width="0.9" stroke-opacity="0.55" />
<line x1="660.89" y1="10.50" x2="660.89" y2="15.03" stroke="#000" stroke-width="0.9" />
<line x1="663.41" y1="10.50" x2="663.41" y2="16.85" stroke="#000" stroke-width="0.9" stroke-opacity="0.85" />
<line x1="665.32" y1="10.50" x2="665.32" y2="18.14" stroke="#000" stroke-width="0.9" />
<line x1="667.84" y1="10.50" x2="667.84" y2="17.10" stroke="#000" stroke-width="0.9" stroke-opacity="0.55" />
<line x1="669.85" y1="10.50" x2="669.85" y2="14.17" stroke="#000" stroke-width="0.9" stroke-opacity="0.4" />
<line x1="671.41" y1="10.50" x2="671.41" y2="15.01" stroke="#000" stroke-width="0.9" stroke-opacity="0.85" />
<rect x="386.5" y="10.5" width="298.00" height="144.70" fill="none" stroke="#8a8a8a" stroke-width="1.3"/>
<line x1="397.70" y1="155.20" x2="397.70" y2="158.80" stroke="#9a9a9a" stroke-width="1.2" />
<text x="397.70" y="168.60" font-size="6.85" text-anchor="middle" font-weight="normal" fill="#2e2e2e" textLength="9.66" lengthAdjust="spacingAndGlyphs">0.5</text>
<line x1="452.92" y1="155.20" x2="452.92" y2="158.80" stroke="#9a9a9a" stroke-width="1.2" />
<text x="452.92" y="168.60" font-size="6.85" text-anchor="middle" font-weight="normal" fill="#2e2e2e" textLength="9.66" lengthAdjust="spacingAndGlyphs">0.6</text>
<line x1="508.14" y1="155.20" x2="508.14" y2="158.80" stroke="#9a9a9a" stroke-width="1.2" />
<text x="508.14" y="168.60" font-size="6.85" text-anchor="middle" font-weight="normal" fill="#2e2e2e" textLength="9.73" lengthAdjust="spacingAndGlyphs">0.7</text>
<line x1="563.36" y1="155.20" x2="563.36" y2="158.80" stroke="#9a9a9a" stroke-width="1.2" />
<text x="563.36" y="168.60" font-size="6.85" text-anchor="middle" font-weight="normal" fill="#2e2e2e" textLength="9.66" lengthAdjust="spacingAndGlyphs">0.8</text>
<line x1="618.58" y1="155.20" x2="618.58" y2="158.80" stroke="#9a9a9a" stroke-width="1.2" />
<text x="618.58" y="168.60" font-size="6.85" text-anchor="middle" font-weight="normal" fill="#2e2e2e" textLength="9.69" lengthAdjust="spacingAndGlyphs">0.9</text>
<line x1="673.80" y1="155.20" x2="673.80" y2="158.80" stroke="#9a9a9a" stroke-width="1.2" />
<text x="673.80" y="168.60" font-size="6.85" text-anchor="middle" font-weight="normal" fill="#2e2e2e" textLength="9.88" lengthAdjust="spacingAndGlyphs">1.0</text>
<line x1="382.90" y1="149.60" x2="386.50" y2="149.60" stroke="#9a9a9a" stroke-width="1.2" />
<text x="377.80" y="149.60" font-size="6.9" text-anchor="middle" font-weight="normal" fill="#2e2e2e" transform="rotate(-90 377.80 149.60)" textLength="8.81" lengthAdjust="spacingAndGlyphs">0.5</text>
<line x1="382.90" y1="122.80" x2="386.50" y2="122.80" stroke="#9a9a9a" stroke-width="1.2" />
<text x="377.80" y="122.80" font-size="6.9" text-anchor="middle" font-weight="normal" fill="#2e2e2e" transform="rotate(-90 377.80 122.80)" textLength="8.81" lengthAdjust="spacingAndGlyphs">0.6</text>
<line x1="382.90" y1="96.00" x2="386.50" y2="96.00" stroke="#9a9a9a" stroke-width="1.2" />
<text x="377.80" y="96.00" font-size="6.9" text-anchor="middle" font-weight="normal" fill="#2e2e2e" transform="rotate(-90 377.80 96.00)" textLength="8.88" lengthAdjust="spacingAndGlyphs">0.7</text>
<line x1="382.90" y1="69.20" x2="386.50" y2="69.20" stroke="#9a9a9a" stroke-width="1.2" />
<text x="377.80" y="69.20" font-size="6.9" text-anchor="middle" font-weight="normal" fill="#2e2e2e" transform="rotate(-90 377.80 69.20)" textLength="8.81" lengthAdjust="spacingAndGlyphs">0.8</text>
<line x1="382.90" y1="42.40" x2="386.50" y2="42.40" stroke="#9a9a9a" stroke-width="1.2" />
<text x="377.80" y="42.40" font-size="6.9" text-anchor="middle" font-weight="normal" fill="#2e2e2e" transform="rotate(-90 377.80 42.40)" textLength="8.84" lengthAdjust="spacingAndGlyphs">0.9</text>
<line x1="382.90" y1="15.60" x2="386.50" y2="15.60" stroke="#9a9a9a" stroke-width="1.2" />
<text x="377.80" y="15.60" font-size="6.9" text-anchor="middle" font-weight="normal" fill="#2e2e2e" transform="rotate(-90 377.80 15.60)" textLength="9.01" lengthAdjust="spacingAndGlyphs">1.0</text>
<text x="535.90" y="184.55" font-size="7.3" text-anchor="middle" font-weight="normal" fill="#2e2e2e" textLength="106.80" lengthAdjust="spacingAndGlyphs">Predicted Probability of 1,3,5-Year OS</text>
<text x="362.80" y="83.00" font-size="7.4" text-anchor="middle" font-weight="normal" fill="#2e2e2e" transform="rotate(-90 362.80 83.00)" textLength="65.31" lengthAdjust="spacingAndGlyphs">Fraction 1,3,5-Year OS</text>
<rect x="641.7" y="124.5" width="42.80" height="30.70" fill="#fff" stroke="#8a8a8a" stroke-width="1"/>
<line x1="647.30" y1="132.20" x2="659.90" y2="132.20" stroke="#ff2222" stroke-width="1.5" />
<text x="664.65" y="134.80" font-size="6.3" text-anchor="start" font-weight="normal" fill="#2e2e2e" textLength="16.76" lengthAdjust="spacingAndGlyphs">5 year</text>
<line x1="647.30" y1="139.60" x2="659.90" y2="139.60" stroke="#2222ff" stroke-width="1.5" />
<text x="664.65" y="142.20" font-size="6.3" text-anchor="start" font-weight="normal" fill="#2e2e2e" textLength="16.76" lengthAdjust="spacingAndGlyphs">3 year</text>
<line x1="647.30" y1="147.30" x2="659.90" y2="147.30" stroke="#22e022" stroke-width="1.5" />
<text x="664.65" y="150.00" font-size="6.3" text-anchor="start" font-weight="normal" fill="#2e2e2e" textLength="16.98" lengthAdjust="spacingAndGlyphs">1 year</text>
<line x1="439.70" y1="121.40" x2="439.70" y2="133.80" stroke="#ff2222" stroke-width="1.5" />
<line x1="437.40" y1="121.40" x2="442.00" y2="121.40" stroke="#ff2222" stroke-width="1.5" />
<line x1="437.40" y1="133.80" x2="442.00" y2="133.80" stroke="#ff2222" stroke-width="1.5" />
<line x1="557.60" y1="67.70" x2="557.60" y2="78.90" stroke="#ff2222" stroke-width="1.5" />
<line x1="555.30" y1="67.70" x2="559.90" y2="67.70" stroke="#ff2222" stroke-width="1.5" />
<line x1="555.30" y1="78.90" x2="559.90" y2="78.90" stroke="#ff2222" stroke-width="1.5" />
<line x1="622.70" y1="36.40" x2="622.70" y2="43.70" stroke="#ff2222" stroke-width="1.5" />
<line x1="620.40" y1="36.40" x2="625.00" y2="36.40" stroke="#ff2222" stroke-width="1.5" />
<line x1="620.40" y1="43.70" x2="625.00" y2="43.70" stroke="#ff2222" stroke-width="1.5" />
<line x1="442.43" y1="126.45" x2="554.87" y2="74.95" stroke="#ff5050" stroke-width="0.85" />
<line x1="560.26" y1="72.31" x2="620.04" y2="40.99" stroke="#ff5050" stroke-width="0.85" />
<path d="M438.10 126.10L441.30 129.30M438.10 129.30L441.30 126.10" stroke="#3030e0" stroke-width="0.9" stroke-opacity="0.65"/>
<circle cx="439.70" cy="127.70" r="1.2" fill="#700a80" fill-opacity="0.85"/>
<path d="M556.00 72.10L559.20 75.30M556.00 75.30L559.20 72.10" stroke="#3030e0" stroke-width="0.9" stroke-opacity="0.65"/>
<circle cx="557.60" cy="73.70" r="1.2" fill="#700a80" fill-opacity="0.85"/>
<path d="M621.10 38.00L624.30 41.20M621.10 41.20L624.30 38.00" stroke="#3030e0" stroke-width="0.9" stroke-opacity="0.65"/>
<circle cx="622.70" cy="39.60" r="1.2" fill="#700a80" fill-opacity="0.85"/>
<line x1="510.60" y1="92.40" x2="510.60" y2="102.70" stroke="#2222ff" stroke-width="1.5" />
<line x1="508.30" y1="92.40" x2="512.90" y2="92.40" stroke="#2222ff" stroke-width="1.5" />
<line x1="508.30" y1="102.70" x2="512.90" y2="102.70" stroke="#2222ff" stroke-width="1.5" />
<line x1="597.80" y1="47.30" x2="597.80" y2="54.40" stroke="#2222ff" stroke-width="1.5" />
<line x1="595.50" y1="47.30" x2="600.10" y2="47.30" stroke="#2222ff" stroke-width="1.5" />
<line x1="595.50" y1="54.40" x2="600.10" y2="54.40" stroke="#2222ff" stroke-width="1.5" />
<line x1="641.20" y1="26.50" x2="641.20" y2="31.20" stroke="#2222ff" stroke-width="1.5" />
<line x1="638.90" y1="26.50" x2="643.50" y2="26.50" stroke="#2222ff" stroke-width="1.5" />
<line x1="638.90" y1="31.20" x2="643.50" y2="31.20" stroke="#2222ff" stroke-width="1.5" />
<line x1="513.24" y1="96.32" x2="595.16" y2="51.93" stroke="#5050ff" stroke-width="0.85" />
<line x1="600.48" y1="49.15" x2="638.52" y2="30.05" stroke="#5050ff" stroke-width="0.85" />
<path d="M509.00 96.15L512.20 99.35M509.00 99.35L512.20 96.15" stroke="#3030e0" stroke-width="0.9" stroke-opacity="0.65"/>
<circle cx="510.60" cy="97.75" r="1.2" fill="#0000e8" fill-opacity="0.85"/>
<path d="M596.20 48.90L599.40 52.10M596.20 52.10L599.40 48.90" stroke="#3030e0" stroke-width="0.9" stroke-opacity="0.65"/>
<circle cx="597.80" cy="50.50" r="1.2" fill="#0000e8" fill-opacity="0.85"/>
<path d="M639.60 27.10L642.80 30.30M639.60 30.30L642.80 27.10" stroke="#3030e0" stroke-width="0.9" stroke-opacity="0.65"/>
<circle cx="641.20" cy="28.70" r="1.2" fill="#0000e8" fill-opacity="0.85"/>
<line x1="615.50" y1="44.40" x2="615.50" y2="50.40" stroke="#22e022" stroke-width="1.5" />
<line x1="613.20" y1="44.40" x2="617.80" y2="44.40" stroke="#22e022" stroke-width="1.5" />
<line x1="613.20" y1="50.40" x2="617.80" y2="50.40" stroke="#22e022" stroke-width="1.5" />
<line x1="648.30" y1="22.50" x2="648.30" y2="26.30" stroke="#22e022" stroke-width="1.5" />
<line x1="646.00" y1="22.50" x2="650.60" y2="22.50" stroke="#22e022" stroke-width="1.5" />
<line x1="646.00" y1="26.30" x2="650.60" y2="26.30" stroke="#22e022" stroke-width="1.5" />
<line x1="663.10" y1="18.20" x2="663.10" y2="20.80" stroke="#22e022" stroke-width="1.5" />
<line x1="660.80" y1="18.20" x2="665.40" y2="18.20" stroke="#22e022" stroke-width="1.5" />
<line x1="660.80" y1="20.80" x2="665.40" y2="20.80" stroke="#22e022" stroke-width="1.5" />
<line x1="617.96" y1="45.49" x2="645.84" y2="26.11" stroke="#50e850" stroke-width="0.85" />
<line x1="651.15" y1="23.46" x2="660.25" y2="20.44" stroke="#50e850" stroke-width="0.85" />
<path d="M613.90 45.60L617.10 48.80M613.90 48.80L617.10 45.60" stroke="#3030e0" stroke-width="0.9" stroke-opacity="0.65"/>
<circle cx="615.50" cy="47.20" r="1.2" fill="#106a70" fill-opacity="0.85"/>
<path d="M646.70 22.80L649.90 26.00M646.70 26.00L649.90 22.80" stroke="#3030e0" stroke-width="0.9" stroke-opacity="0.65"/>
<circle cx="648.30" cy="24.40" r="1.2" fill="#106a70" fill-opacity="0.85"/>
<path d="M661.50 17.90L664.70 21.10M661.50 21.10L664.70 17.90" stroke="#3030e0" stroke-width="0.9" stroke-opacity="0.65"/>
<circle cx="663.10" cy="19.50" r="1.2" fill="#106a70" fill-opacity="0.85"/>
<line x1="386.50" y1="155.20" x2="682.50" y2="11.40" stroke="#ebebeb" stroke-width="0.8" />
<line x1="386.50" y1="20.20" x2="406.50" y2="10.60" stroke="#e4e4e4" stroke-width="0.8" />
<text x="358.60" y="8.85" font-size="12.0" text-anchor="start" font-weight="normal" fill="#1a1a1a" textLength="6.80" lengthAdjust="spacingAndGlyphs" stroke="#1a1a1a" stroke-width="0.35">b</text>
<line x1="38.30" y1="215.80" x2="38.30" y2="216.99" stroke="#000" stroke-width="0.9" stroke-opacity="0.55" />
<line x1="43.95" y1="215.80" x2="43.95" y2="217.06" stroke="#000" stroke-width="0.9" stroke-opacity="0.55" />
<line x1="49.60" y1="215.80" x2="49.60" y2="216.77" stroke="#000" stroke-width="0.9" stroke-opacity="0.85" />
<line x1="55.25" y1="215.80" x2="55.25" y2="216.78" stroke="#000" stroke-width="0.9" stroke-opacity="0.85" />
<line x1="60.90" y1="215.80" x2="60.90" y2="216.75" stroke="#000" stroke-width="0.9" stroke-opacity="0.85" />
<line x1="66.55" y1="215.80" x2="66.55" y2="216.89" stroke="#000" stroke-width="0.9" stroke-opacity="0.55" />
<line x1="72.20" y1="215.80" x2="72.20" y2="217.09" stroke="#000" stroke-width="0.9" stroke-opacity="0.55" />
<line x1="77.85" y1="215.80" x2="77.85" y2="216.92" stroke="#000" stroke-width="0.9" stroke-opacity="0.85" />
<line x1="83.50" y1="215.80" x2="83.50" y2="217.08" stroke="#000" stroke-width="0.9" stroke-opacity="0.85" />
<line x1="89.15" y1="215.80" x2="89.15" y2="216.81" stroke="#000" stroke-width="0.9" stroke-opacity="0.55" />
<line x1="94.80" y1="215.80" x2="94.80" y2="217.27" stroke="#000" stroke-width="0.9" stroke-opacity="0.85" />
<line x1="100.45" y1="215.80" x2="100.45" y2="217.55" stroke="#000" stroke-width="0.9" stroke-opacity="0.85" />
<line x1="106.10" y1="215.80" x2="106.10" y2="217.23" stroke="#000" stroke-width="0.9" stroke-opacity="0.55" />
<line x1="111.75" y1="215.80" x2="111.75" y2="217.58" stroke="#000" stroke-width="0.9" stroke-opacity="0.55" />
<line x1="117.40" y1="215.80" x2="117.40" y2="217.20" stroke="#000" stroke-width="0.9" stroke-opacity="0.55" />
<line x1="123.05" y1="215.80" x2="123.05" y2="216.96" stroke="#000" stroke-width="0.9" stroke-opacity="0.55" />
<line x1="128.70" y1="215.80" x2="128.70" y2="217.19" stroke="#000" stroke-width="0.9" stroke-opacity="0.85" />
<line x1="134.35" y1="215.80" x2="134.35" y2="216.98" stroke="#000" stroke-width="0.9" stroke-opacity="0.85" />
<line x1="140.00" y1="215.80" x2="140.00" y2="216.86" stroke="#000" stroke-width="0.9" stroke-opacity="0.85" />
<line x1="145.65" y1="215.80" x2="145.65" y2="217.21" stroke="#000" stroke-width="0.9" stroke-opacity="0.55" />
<line x1="151.30" y1="215.80" x2="151.30" y2="217.04" stroke="#000" stroke-width="0.9" stroke-opacity="0.85" />
<line x1="156.95" y1="215.80" x2="156.95" y2="217.34" stroke="#000" stroke-width="0.9" stroke-opacity="0.85" />
<line x1="162.60" y1="215.80" x2="162.60" y2="216.75" stroke="#000" stroke-width="0.9" stroke-opacity="0.55" />
<line x1="168.25" y1="215.80" x2="168.25" y2="217.15" stroke="#000" stroke-width="0.9" stroke-opacity="0.85" />
<line x1="173.90" y1="215.80" x2="173.90" y2="217.08" stroke="#000" stroke-width="0.9" stroke-opacity="0.7" />
<line x1="179.55" y1="215.80" x2="179.55" y2="217.12" stroke="#000" stroke-width="0.9" stroke-opacity="0.7" />
<line x1="185.20" y1="215.80" x2="185.20" y2="217.03" stroke="#000" stroke-width="0.9" stroke-opacity="0.55" />
<line x1="190.85" y1="215.80" x2="190.85" y2="217.41" stroke="#000" stroke-width="0.9" stroke-opacity="0.85" />
<line x1="196.50" y1="215.80" x2="196.50" y2="217.40" stroke="#000" stroke-width="0.9" stroke-opacity="0.55" />
<line x1="202.15" y1="215.80" x2="202.15" y2="217.22" stroke="#000" stroke-width="0.9" stroke-opacity="0.85" />
<line x1="207.80" y1="215.80" x2="207.80" y2="217.15" stroke="#000" stroke-width="0.9" stroke-opacity="0.7" />
<line x1="213.45" y1="215.80" x2="213.45" y2="217.36" stroke="#000" stroke-width="0.9" stroke-opacity="0.7" />
<line x1="220.09" y1="215.80" x2="220.09" y2="217.22" stroke="#000" stroke-width="0.9" />
<line x1="224.50" y1="215.80" x2="224.50" y2="217.46" stroke="#000" stroke-width="0.9" stroke-opacity="0.85" />
<line x1="228.98" y1="215.80" x2="228.98" y2="217.23" stroke="#000" stroke-width="0.9" />
<line x1="233.78" y1="215.80" x2="233.78" y2="217.94" stroke="#000" stroke-width="0.9" stroke-opacity="0.7" />
<line x1="238.49" y1="215.80" x2="238.49" y2="218.37" stroke="#000" stroke-width="0.9" stroke-opacity="0.4" />
<line x1="244.64" y1="215.80" x2="244.64" y2="218.99" stroke="#000" stroke-width="0.9" stroke-opacity="0.4" />
<line x1="249.96" y1="215.80" x2="249.96" y2="218.73" stroke="#000" stroke-width="0.9" stroke-opacity="0.85" />
<line x1="253.83" y1="215.80" x2="253.83" y2="219.01" stroke="#000" stroke-width="0.9" stroke-opacity="0.4" />
<line x1="260.03" y1="215.80" x2="260.03" y2="218.83" stroke="#000" stroke-width="0.9" stroke-opacity="0.85" />
<line x1="263.33" y1="215.80" x2="263.33" y2="217.39" stroke="#000" stroke-width="0.9" stroke-opacity="0.55" />
<line x1="267.68" y1="215.80" x2="267.68" y2="218.49" stroke="#000" stroke-width="0.9" stroke-opacity="0.55" />
<line x1="268.04" y1="215.80" x2="268.04" y2="220.89" stroke="#000" stroke-width="0.9" stroke-opacity="0.85" />
<line x1="270.15" y1="215.80" x2="270.15" y2="219.25" stroke="#000" stroke-width="0.9" stroke-opacity="0.7" />
<line x1="272.29" y1="215.80" x2="272.29" y2="218.61" stroke="#000" stroke-width="0.9" stroke-opacity="0.4" />
<line x1="273.51" y1="215.80" x2="273.51" y2="218.62" stroke="#000" stroke-width="0.9" stroke-opacity="0.85" />
<line x1="275.74" y1="215.80" x2="275.74" y2="218.79" stroke="#000" stroke-width="0.9" stroke-opacity="0.55" />
<line x1="277.58" y1="215.80" x2="277.58" y2="219.78" stroke="#000" stroke-width="0.9" stroke-opacity="0.55" />
<line x1="279.77" y1="215.80" x2="279.77" y2="219.96" stroke="#000" stroke-width="0.9" stroke-opacity="0.4" />
<line x1="281.79" y1="215.80" x2="281.79" y2="221.13" stroke="#000" stroke-width="0.9" />
<line x1="283.06" y1="215.80" x2="283.06" y2="218.16" stroke="#000" stroke-width="0.9" stroke-opacity="0.85" />
<line x1="283.96" y1="215.80" x2="283.96" y2="218.53" stroke="#000" stroke-width="0.9" stroke-opacity="0.55" />
<line x1="285.63" y1="215.80" x2="285.63" y2="218.16" stroke="#000" stroke-width="0.9" />
<line x1="286.52" y1="215.80" x2="286.52" y2="219.07" stroke="#000" stroke-width="0.9" stroke-opacity="0.4" />
<line x1="287.79" y1="215.80" x2="287.79" y2="219.12" stroke="#000" stroke-width="0.9" stroke-opacity="0.7" />
<line x1="290.56" y1="215.80" x2="290.56" y2="219.46" stroke="#000" stroke-width="0.9" stroke-opacity="0.4" />
<line x1="293.18" y1="215.80" x2="293.18" y2="219.43" stroke="#000" stroke-width="0.9" stroke-opacity="0.85" />
<line x1="292.72" y1="215.80" x2="292.72" y2="220.55" stroke="#000" stroke-width="0.9" stroke-opacity="0.7" />
<line x1="293.94" y1="215.80" x2="293.94" y2="219.85" stroke="#000" stroke-width="0.9" stroke-opacity="0.55" />
<line x1="294.90" y1="215.80" x2="294.90" y2="218.74" stroke="#000" stroke-width="0.9" />
<line x1="296.15" y1="215.80" x2="296.15" y2="219.19" stroke="#000" stroke-width="0.9" stroke-opacity="0.4" />
<line x1="296.67" y1="215.80" x2="296.67" y2="219.40" stroke="#000" stroke-width="0.9" stroke-opacity="0.55" />
<line x1="297.35" y1="215.80" x2="297.35" y2="219.92" stroke="#000" stroke-width="0.9" />
<line x1="298.04" y1="215.80" x2="298.04" y2="220.73" stroke="#000" stroke-width="0.9" stroke-opacity="0.55" />
<line x1="299.51" y1="215.80" x2="299.51" y2="220.52" stroke="#000" stroke-width="0.9" stroke-opacity="0.55" />
<line x1="299.86" y1="215.80" x2="299.86" y2="220.49" stroke="#000" stroke-width="0.9" stroke-opacity="0.4" />
<line x1="300.83" y1="215.80" x2="300.83" y2="218.88" stroke="#000" stroke-width="0.9" />
<line x1="301.90" y1="215.80" x2="301.90" y2="221.11" stroke="#000" stroke-width="0.9" stroke-opacity="0.7" />
<line x1="302.93" y1="215.80" x2="302.93" y2="218.96" stroke="#000" stroke-width="0.9" stroke-opacity="0.55" />
<line x1="303.69" y1="215.80" x2="303.69" y2="219.75" stroke="#000" stroke-width="0.9" />
<rect x="30.5" y="215.8" width="284.50" height="138.70" fill="none" stroke="#8a8a8a" stroke-width="1.3"/>
<line x1="40.80" y1="354.50" x2="40.80" y2="358.10" stroke="#9a9a9a" stroke-width="1.2" />
<text x="40.80" y="367.70" font-size="7.2" text-anchor="middle" font-weight="normal" fill="#2e2e2e" textLength="12.49" lengthAdjust="spacingAndGlyphs">0.70</text>
<line x1="84.70" y1="354.50" x2="84.70" y2="358.10" stroke="#9a9a9a" stroke-width="1.2" />
<text x="84.70" y="367.70" font-size="7.2" text-anchor="middle" font-weight="normal" fill="#2e2e2e" textLength="12.52" lengthAdjust="spacingAndGlyphs">0.75</text>
<line x1="128.60" y1="354.50" x2="128.60" y2="358.10" stroke="#9a9a9a" stroke-width="1.2" />
<text x="128.60" y="367.70" font-size="7.2" text-anchor="middle" font-weight="normal" fill="#2e2e2e" textLength="12.49" lengthAdjust="spacingAndGlyphs">0.80</text>
<line x1="172.50" y1="354.50" x2="172.50" y2="358.10" stroke="#9a9a9a" stroke-width="1.2" />
<text x="172.50" y="367.70" font-size="7.2" text-anchor="middle" font-weight="normal" fill="#2e2e2e" textLength="12.52" lengthAdjust="spacingAndGlyphs">0.85</text>
<line x1="216.40" y1="354.50" x2="216.40" y2="358.10" stroke="#9a9a9a" stroke-width="1.2" />
<text x="216.40" y="367.70" font-size="7.2" text-anchor="middle" font-weight="normal" fill="#2e2e2e" textLength="12.49" lengthAdjust="spacingAndGlyphs">0.90</text>
<line x1="260.30" y1="354.50" x2="260.30" y2="358.10" stroke="#9a9a9a" stroke-width="1.2" />
<text x="260.30" y="367.70" font-size="7.2" text-anchor="middle" font-weight="normal" fill="#2e2e2e" textLength="12.52" lengthAdjust="spacingAndGlyphs">0.95</text>
<line x1="304.20" y1="354.50" x2="304.20" y2="358.10" stroke="#9a9a9a" stroke-width="1.2" />
<text x="304.20" y="367.70" font-size="7.2" text-anchor="middle" font-weight="normal" fill="#2e2e2e" textLength="12.73" lengthAdjust="spacingAndGlyphs">1.00</text>
<line x1="26.90" y1="348.60" x2="30.50" y2="348.60" stroke="#9a9a9a" stroke-width="1.2" />
<text x="22.30" y="348.60" font-size="7.0" text-anchor="middle" font-weight="normal" fill="#2e2e2e" transform="rotate(-90 22.30 348.60)" textLength="11.76" lengthAdjust="spacingAndGlyphs">0.70</text>
<line x1="26.90" y1="327.38" x2="30.50" y2="327.38" stroke="#9a9a9a" stroke-width="1.2" />
<text x="22.30" y="327.38" font-size="7.0" text-anchor="middle" font-weight="normal" fill="#2e2e2e" transform="rotate(-90 22.30 327.38)" textLength="11.79" lengthAdjust="spacingAndGlyphs">0.75</text>
<line x1="26.90" y1="306.16" x2="30.50" y2="306.16" stroke="#9a9a9a" stroke-width="1.2" />
<text x="22.30" y="306.16" font-size="7.0" text-anchor="middle" font-weight="normal" fill="#2e2e2e" transform="rotate(-90 22.30 306.16)" textLength="11.76" lengthAdjust="spacingAndGlyphs">0.80</text>
<line x1="26.90" y1="284.94" x2="30.50" y2="284.94" stroke="#9a9a9a" stroke-width="1.2" />
<text x="22.30" y="284.94" font-size="7.0" text-anchor="middle" font-weight="normal" fill="#2e2e2e" transform="rotate(-90 22.30 284.94)" textLength="11.79" lengthAdjust="spacingAndGlyphs">0.85</text>
<line x1="26.90" y1="263.72" x2="30.50" y2="263.72" stroke="#9a9a9a" stroke-width="1.2" />
<text x="22.30" y="263.72" font-size="7.0" text-anchor="middle" font-weight="normal" fill="#2e2e2e" transform="rotate(-90 22.30 263.72)" textLength="11.76" lengthAdjust="spacingAndGlyphs">0.90</text>
<line x1="26.90" y1="242.50" x2="30.50" y2="242.50" stroke="#9a9a9a" stroke-width="1.2" />
<text x="22.30" y="242.50" font-size="7.0" text-anchor="middle" font-weight="normal" fill="#2e2e2e" transform="rotate(-90 22.30 242.50)" textLength="11.79" lengthAdjust="spacingAndGlyphs">0.95</text>
<line x1="26.90" y1="221.28" x2="30.50" y2="221.28" stroke="#9a9a9a" stroke-width="1.2" />
<text x="22.30" y="221.28" font-size="7.0" text-anchor="middle" font-weight="normal" fill="#2e2e2e" transform="rotate(-90 22.30 221.28)" textLength="11.99" lengthAdjust="spacingAndGlyphs">1.00</text>
<text x="172.65" y="382.20" font-size="6.5" text-anchor="middle" font-weight="normal" fill="#2e2e2e" textLength="102.27" lengthAdjust="spacingAndGlyphs">Predicted Probability of 1,3,5-Year OS</text>
<text x="7.60" y="285.50" font-size="7.2" text-anchor="middle" font-weight="normal" fill="#2e2e2e" transform="rotate(-90 7.60 285.50)" textLength="62.27" lengthAdjust="spacingAndGlyphs">Fraction 1,3,5-Year OS</text>
<rect x="273.6" y="324.7" width="41.40" height="29.80" fill="#fff" stroke="#8a8a8a" stroke-width="1"/>
<line x1="279.00" y1="332.30" x2="290.90" y2="332.30" stroke="#ff2222" stroke-width="1.5" />
<text x="295.75" y="334.80" font-size="6.3" text-anchor="start" font-weight="normal" fill="#2e2e2e" textLength="16.25" lengthAdjust="spacingAndGlyphs">5 year</text>
<line x1="279.00" y1="339.40" x2="290.90" y2="339.40" stroke="#2222ff" stroke-width="1.5" />
<text x="295.75" y="342.20" font-size="6.3" text-anchor="start" font-weight="normal" fill="#2e2e2e" textLength="16.25" lengthAdjust="spacingAndGlyphs">3 year</text>
<line x1="279.00" y1="346.40" x2="290.90" y2="346.40" stroke="#22e022" stroke-width="1.5" />
<text x="295.75" y="349.20" font-size="6.3" text-anchor="start" font-weight="normal" fill="#2e2e2e" textLength="16.46" lengthAdjust="spacingAndGlyphs">1 year</text>
<line x1="120.20" y1="273.10" x2="120.20" y2="324.00" stroke="#ff2222" stroke-width="1.1" />
<line x1="117.90" y1="273.10" x2="122.50" y2="273.10" stroke="#ff2222" stroke-width="1.1" />
<line x1="117.90" y1="324.00" x2="122.50" y2="324.00" stroke="#ff2222" stroke-width="1.1" />
<line x1="245.60" y1="237.30" x2="245.60" y2="281.70" stroke="#ff2222" stroke-width="1.1" />
<line x1="243.30" y1="237.30" x2="247.90" y2="237.30" stroke="#ff2222" stroke-width="1.1" />
<line x1="243.30" y1="281.70" x2="247.90" y2="281.70" stroke="#ff2222" stroke-width="1.1" />
<line x1="274.80" y1="220.50" x2="274.80" y2="256.90" stroke="#ff2222" stroke-width="1.1" />
<line x1="272.50" y1="220.50" x2="277.10" y2="220.50" stroke="#ff2222" stroke-width="1.1" />
<line x1="272.50" y1="256.90" x2="277.10" y2="256.90" stroke="#ff2222" stroke-width="1.1" />
<line x1="123.07" y1="298.21" x2="242.73" y2="261.09" stroke="#ff5050" stroke-width="0.85" />
<line x1="248.02" y1="258.42" x2="272.38" y2="240.48" stroke="#ff5050" stroke-width="0.85" />
<path d="M118.60 297.50L121.80 300.70M118.60 300.70L121.80 297.50" stroke="#3030e0" stroke-width="0.9" stroke-opacity="0.65"/>
<circle cx="120.20" cy="299.10" r="1.2" fill="#700a80" fill-opacity="0.85"/>
<path d="M244.00 258.60L247.20 261.80M244.00 261.80L247.20 258.60" stroke="#3030e0" stroke-width="0.9" stroke-opacity="0.65"/>
<circle cx="245.60" cy="260.20" r="1.2" fill="#700a80" fill-opacity="0.85"/>
<path d="M273.20 237.10L276.40 240.30M273.20 240.30L276.40 237.10" stroke="#3030e0" stroke-width="0.9" stroke-opacity="0.65"/>
<circle cx="274.80" cy="238.70" r="1.2" fill="#700a80" fill-opacity="0.85"/>
<line x1="211.30" y1="247.70" x2="211.30" y2="289.00" stroke="#2222ff" stroke-width="1.1" />
<line x1="209.00" y1="247.70" x2="213.60" y2="247.70" stroke="#2222ff" stroke-width="1.1" />
<line x1="209.00" y1="289.00" x2="213.60" y2="289.00" stroke="#2222ff" stroke-width="1.1" />
<line x1="276.60" y1="222.30" x2="276.60" y2="244.30" stroke="#2222ff" stroke-width="1.1" />
<line x1="274.30" y1="222.30" x2="278.90" y2="222.30" stroke="#2222ff" stroke-width="1.1" />
<line x1="274.30" y1="244.30" x2="278.90" y2="244.30" stroke="#2222ff" stroke-width="1.1" />
<line x1="290.90" y1="220.70" x2="290.90" y2="232.70" stroke="#2222ff" stroke-width="1.1" />
<line x1="288.60" y1="220.70" x2="293.20" y2="220.70" stroke="#2222ff" stroke-width="1.1" />
<line x1="288.60" y1="232.70" x2="293.20" y2="232.70" stroke="#2222ff" stroke-width="1.1" />
<line x1="213.92" y1="268.15" x2="273.98" y2="234.85" stroke="#5050ff" stroke-width="0.85" />
<line x1="279.25" y1="231.99" x2="288.25" y2="227.21" stroke="#5050ff" stroke-width="0.85" />
<path d="M209.70 268.00L212.90 271.20M209.70 271.20L212.90 268.00" stroke="#3030e0" stroke-width="0.9" stroke-opacity="0.65"/>
<circle cx="211.30" cy="269.60" r="1.2" fill="#0000e8" fill-opacity="0.85"/>
<path d="M275.00 231.80L278.20 235.00M275.00 235.00L278.20 231.80" stroke="#3030e0" stroke-width="0.9" stroke-opacity="0.65"/>
<circle cx="276.60" cy="233.40" r="1.2" fill="#0000e8" fill-opacity="0.85"/>
<path d="M289.30 224.20L292.50 227.40M289.30 227.40L292.50 224.20" stroke="#3030e0" stroke-width="0.9" stroke-opacity="0.65"/>
<circle cx="290.90" cy="225.80" r="1.2" fill="#0000e8" fill-opacity="0.85"/>
<line x1="279.10" y1="222.40" x2="279.10" y2="244.20" stroke="#22e022" stroke-width="1.1" />
<line x1="276.80" y1="222.40" x2="281.40" y2="222.40" stroke="#22e022" stroke-width="1.1" />
<line x1="276.80" y1="244.20" x2="281.40" y2="244.20" stroke="#22e022" stroke-width="1.1" />
<line x1="297.10" y1="220.70" x2="297.10" y2="232.50" stroke="#22e022" stroke-width="1.1" />
<line x1="294.80" y1="220.70" x2="299.40" y2="220.70" stroke="#22e022" stroke-width="1.1" />
<line x1="294.80" y1="232.50" x2="299.40" y2="232.50" stroke="#22e022" stroke-width="1.1" />
<line x1="301.00" y1="219.60" x2="301.00" y2="222.40" stroke="#22e022" stroke-width="1.1" />
<line x1="298.70" y1="219.60" x2="303.30" y2="219.60" stroke="#22e022" stroke-width="1.1" />
<line x1="298.70" y1="222.40" x2="303.30" y2="222.40" stroke="#22e022" stroke-width="1.1" />
<line x1="281.85" y1="232.79" x2="294.35" y2="227.31" stroke="#50e850" stroke-width="0.85" />
<line x1="298.92" y1="223.72" x2="299.18" y2="223.38" stroke="#50e850" stroke-width="0.85" />
<path d="M277.50 232.40L280.70 235.60M277.50 235.60L280.70 232.40" stroke="#3030e0" stroke-width="0.9" stroke-opacity="0.65"/>
<circle cx="279.10" cy="234.00" r="1.2" fill="#106a70" fill-opacity="0.85"/>
<path d="M295.50 224.50L298.70 227.70M295.50 227.70L298.70 224.50" stroke="#3030e0" stroke-width="0.9" stroke-opacity="0.65"/>
<circle cx="297.10" cy="226.10" r="1.2" fill="#106a70" fill-opacity="0.85"/>
<path d="M299.40 219.40L302.60 222.60M299.40 222.60L302.60 219.40" stroke="#3030e0" stroke-width="0.9" stroke-opacity="0.65"/>
<circle cx="301.00" cy="221.00" r="1.2" fill="#106a70" fill-opacity="0.85"/>
<line x1="30.50" y1="354.50" x2="313.50" y2="216.80" stroke="#ebebeb" stroke-width="0.8" />
<text x="0.70" y="208.95" font-size="12.6" text-anchor="start" font-weight="normal" fill="#1a1a1a" textLength="6.44" lengthAdjust="spacingAndGlyphs" stroke="#1a1a1a" stroke-width="0.35">c</text>
</svg>
</body></html>
